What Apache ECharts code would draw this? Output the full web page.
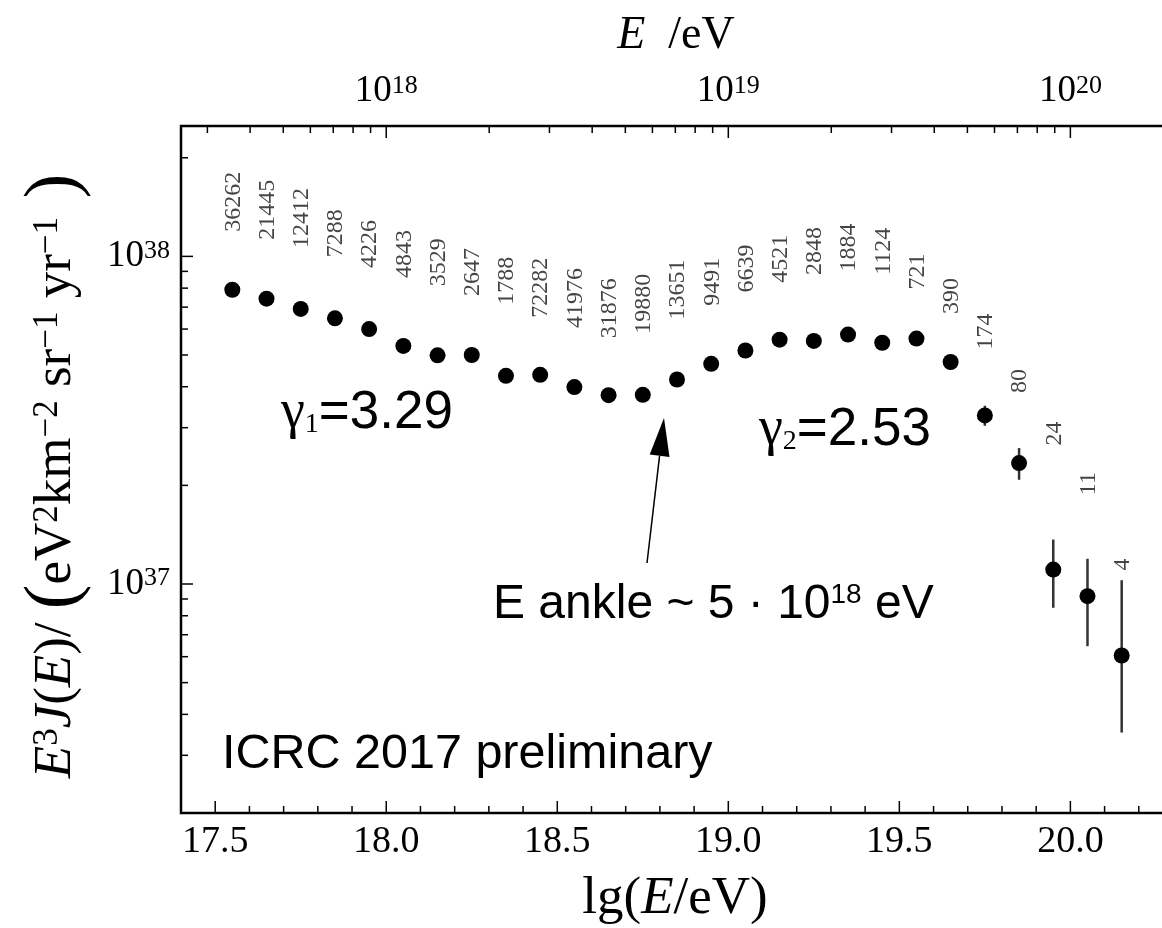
<!DOCTYPE html>
<html><head><meta charset="utf-8">
<script src="https://cdn.jsdelivr.net/npm/echarts@6/dist/echarts.min.js"></script>
<style>html,body{margin:0;padding:0;background:#fff}#c{width:1162px;height:928px}</style>
</head><body><div id="c"></div>
<script>
// ---- data ----
const lgE = [17.55, 17.65, 17.75, 17.85, 17.95, 18.05, 18.15, 18.25, 18.35, 18.45, 18.55, 18.65, 18.75, 18.85, 18.95, 19.05, 19.15, 19.25, 19.35, 19.45, 19.55, 19.65, 19.75, 19.85, 19.95, 20.05, 20.15];
const flux = [7.91e37, 7.43e37, 6.91e37, 6.47e37, 6.00e37, 5.33e37, 4.99e37, 5.00e37, 4.32e37, 4.35e37, 3.99e37, 3.77e37, 3.78e37, 4.21e37, 4.70e37, 5.16e37, 5.57e37, 5.52e37, 5.77e37, 5.45e37, 5.61e37, 4.76e37, 3.27e37, 2.34e37, 1.107e37, 9.18e36, 6.05e36];
const errLow  = [null, null, null, null, null, null, null, null, null, null, null, null, null, null, null, null, null, null, null, null, null, null, 3.04e37, 2.08e37, 8.46e36, 6.46e36, 3.52e36];
const errHigh = [null, null, null, null, null, null, null, null, null, null, null, null, null, null, null, null, null, null, null, null, null, null, 3.50e37, 2.60e37, 1.367e37, 1.194e37, 1.027e37];
const counts = ['36262', '21445', '12412', '7288', '4226', '4843', '3529', '2647', '1788', '72282', '41976', '31876', '19880', '13651', '9491', '6639', '4521', '2848', '1884', '1124', '721', '390', '174', '80', '24', '11', '4'];
const xTickLabels = ['17.5', '18.0', '18.5', '19.0', '19.5', '20.0'];
const topDecades = [18, 19, 20];
const yDecades = [37, 38];

// ---- layout (pixel gap between point centre and start of its count label) ----
const labelGap = [58, 59, 61, 61, 61, 68, 69, 59, 71, 57, 59, 57, 61, 60, 58, 58, 57, 66, 63, 68, 49, 48, 66, 70, 124, 101, 85];

const SERIF = '"Liberation Serif", "DejaVu Serif", serif';
const SANS = '"Liberation Sans", Arial, sans-serif';
const X_MIN = 17.4, X_MAX = 20.3, Y_MIN = 2e36, Y_MAX = 2.5e38;

const near = (a, b) => Math.abs(a - b) < 1e-6;

const chart = echarts.init(document.getElementById('c'), null, {renderer: 'canvas'});

const pts = lgE.map((x, i) => [x, flux[i]]);
const errData = [];
lgE.forEach((x, i) => { if (errLow[i] != null) errData.push([x, errLow[i], errHigh[i]]); });

const supRich = (size, sup) => ({
  b: {fontFamily: SERIF, fontSize: size, color: '#000'},
  s: {fontFamily: SERIF, fontSize: sup, color: '#000', verticalAlign: 'top', lineHeight: 16}
});

const option = {
  animation: false,
  backgroundColor: '#fff',
  grid: {left: 181, top: 126, right: -11, bottom: 115, show: true, borderColor: '#000', borderWidth: 2.5,
         backgroundColor: 'transparent', containLabel: false, outerBoundsMode: 'none'},
  xAxis: [
    {type: 'value', position: 'bottom', min: X_MIN, max: X_MAX, interval: 0.1,
     axisLine: {show: false}, axisTick: {show: false}, splitLine: {show: false},
     axisLabel: {margin: 10, color: '#000', fontFamily: SERIF, fontSize: 38, hideOverlap: false,
       formatter: v => { const t = xTickLabels.find(s => near(parseFloat(s), v)); return t || ''; }}},
    {type: 'value', position: 'top', min: X_MIN, max: X_MAX, interval: 0.1,
     axisLine: {show: false}, axisTick: {show: false}, splitLine: {show: false},
     axisLabel: {margin: 16, color: '#000', hideOverlap: false,
       formatter: v => { const d = topDecades.find(n => near(n, v)); return d ? '{b|10}{s|' + d + '}' : ''; },
       rich: supRich(37, 26)}}
  ],
  yAxis: {type: 'log', logBase: 10, min: Y_MIN, max: Y_MAX,
    axisLine: {show: false}, axisTick: {show: false}, splitLine: {show: false},
    axisLabel: {margin: 11, color: '#000', hideOverlap: false,
      formatter: v => { const l = Math.log10(v); const d = yDecades.find(n => near(n, l)); return d ? '{b|10}{s|' + d + '}' : ''; },
      rich: supRich(37, 26)}},
  series: [
    { // axis ticks drawn through the scales
      type: 'custom', silent: true, clip: false, z: 5, data: [[18, 1e37]],
      renderItem: (params, api) => {
        const cs = params.coordSys;
        const L = cs.x, T = cs.y, B = cs.y + cs.height;
        const st = {stroke: '#000', lineWidth: 1.5};
        const ch = [];
        for (let k = 175; k <= 202; k++) {
          const x = api.coord([k / 10, 1e37])[0];
          ch.push({type: 'line', shape: {x1: x, y1: B, x2: x, y2: B - (k % 5 === 0 ? 12 : 7)}, style: st});
        }
        for (let n = 17; n <= 20; n++) for (let m = 1; m <= 9; m++) {
          const v = n + Math.log10(m);
          if (v <= X_MIN + 1e-9 || v >= X_MAX - 1e-9) continue;
          const x = api.coord([v, 1e37])[0];
          ch.push({type: 'line', shape: {x1: x, y1: T, x2: x, y2: T + (m === 1 ? 12 : 7)}, style: st});
        }
        for (let e = 36; e <= 38; e++) for (let m = 1; m <= 9; m++) {
          const val = m * Math.pow(10, e);
          if (val <= Y_MIN * 1.0001 || val >= Y_MAX * 0.9999) continue;
          const y = api.coord([18, val])[1];
          ch.push({type: 'line', shape: {x1: L, y1: y, x2: L + (m === 1 ? 12 : 7), y2: y}, style: st});
        }
        return {type: 'group', children: ch};
      }
    },
    { // error bars
      type: 'custom', silent: true, z: 3, data: errData,
      renderItem: (params, api) => {
        const a = api.coord([api.value(0), api.value(1)]);
        const b = api.coord([api.value(0), api.value(2)]);
        return {type: 'line', shape: {x1: a[0], y1: a[1], x2: b[0], y2: b[1]}, style: {stroke: '#333', lineWidth: 2.5}};
      }
    },
    { // data points
      type: 'scatter', symbol: 'circle', symbolSize: 16, z: 4, data: pts,
      itemStyle: {color: '#000', opacity: 1}
    },
    { // event-count labels
      type: 'custom', silent: true, z: 4, data: pts,
      renderItem: (params, api) => {
        const i = params.dataIndex;
        const p = api.coord([api.value(0), api.value(1)]);
        return {type: 'text', x: p[0] + 1, y: p[1] - labelGap[i], rotation: Math.PI / 2,
          style: {text: counts[i], fontFamily: SERIF, fontSize: 24, fill: '#444', align: 'left', verticalAlign: 'middle'}};
      }
    }
  ],
  graphic: [
    {type: 'text', x: 676, y: 36, style: {
      text: '{i|E}{n|  /eV}', align: 'center', verticalAlign: 'middle',
      rich: {i: {fontFamily: SERIF, fontStyle: 'italic', fontSize: 46, fill: '#000'}, n: {fontFamily: SERIF, fontSize: 46, fill: '#000'}}}},
    {type: 'text', x: 675, y: 899, style: {
      text: '{n|lg(}{i|E}{n|/eV)}', align: 'center', verticalAlign: 'middle',
      rich: {i: {fontFamily: SERIF, fontStyle: 'italic', fontSize: 53, fill: '#000'}, n: {fontFamily: SERIF, fontSize: 53, fill: '#000'}}}},
    {type: 'text', x: 56, y: 476, rotation: Math.PI / 2, style: {
      text: '{i|E}{s|3}{i|J}{n|(}{i|E}{n|)/ }{p|(}{n|eV}{s|2}{n|km}{s|−2}{n| sr}{s|−1}{n| yr}{s|−1}{p| )}',
      align: 'center', verticalAlign: 'middle',
      rich: {
        i: {fontFamily: SERIF, fontStyle: 'italic', fontSize: 53, lineHeight: 52, fill: '#000'},
        n: {fontFamily: SERIF, fontSize: 53, lineHeight: 52, fill: '#000'},
        s: {fontFamily: SERIF, fontSize: 35, lineHeight: 22, verticalAlign: 'top', fill: '#000'},
        p: {fontFamily: SERIF, fontSize: 74, lineHeight: 52, fill: '#000'}
      }}},
    {type: 'text', x: 281, y: 413, style: {
      text: '{g|γ}{b|1}{n|=3.29}', align: 'left', verticalAlign: 'middle',
      rich: {g: {fontFamily: SERIF, fontSize: 54, lineHeight: 52, fill: '#000'},
             b: {fontFamily: SERIF, fontSize: 28, lineHeight: 10, verticalAlign: 'bottom', fill: '#000'},
             n: {fontFamily: SANS, fontSize: 53, lineHeight: 52, fill: '#000'}}}},
    {type: 'text', x: 759, y: 430, style: {
      text: '{g|γ}{b|2}{n|=2.53}', align: 'left', verticalAlign: 'middle',
      rich: {g: {fontFamily: SERIF, fontSize: 54, lineHeight: 52, fill: '#000'},
             b: {fontFamily: SERIF, fontSize: 28, lineHeight: 10, verticalAlign: 'bottom', fill: '#000'},
             n: {fontFamily: SANS, fontSize: 53, lineHeight: 52, fill: '#000'}}}},
    {type: 'text', x: 493, y: 605, style: {
      text: '{n|E ankle ~ 5 · 10}{s|18}{n| eV}', align: 'left', verticalAlign: 'middle',
      rich: {n: {fontFamily: SANS, fontSize: 48, lineHeight: 48, fill: '#000'},
             s: {fontFamily: SANS, fontSize: 28, lineHeight: 20, verticalAlign: 'top', fill: '#000'}}}},
    {type: 'text', x: 222, y: 755, style: {
      text: 'ICRC 2017 preliminary', align: 'left', verticalAlign: 'middle',
      fontFamily: SANS, fontSize: 48.5, fill: '#000'}},
    {type: 'line', shape: {x1: 647, y1: 563, x2: 659.6, y2: 455.7}, style: {stroke: '#000', lineWidth: 1.5}},
    {type: 'polygon', shape: {points: [[664, 418], [669.5, 456.9], [649.7, 454.5]]}, style: {fill: '#000'}}
  ]
};
chart.setOption(option);
</script>
</body></html>
